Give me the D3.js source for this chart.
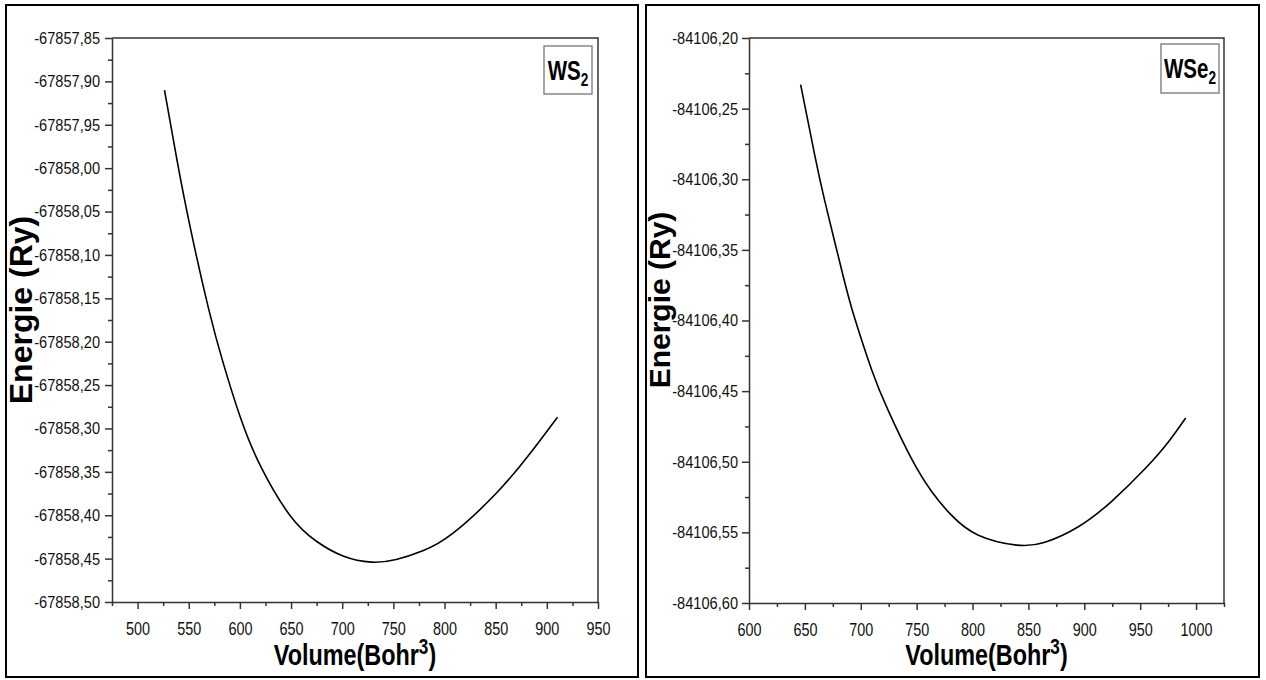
<!DOCTYPE html>
<html lang='en'>
	<head>
		<title>Energie - Volume</title>
		<meta charset=utf-8>
		<script src="https://cdn.jsdelivr.net/npm/d3@7"></script>
		<style>
			body {
				margin: 0;
				background-color: white;
			}
			.ticklab {
				font-family: 'Liberation Sans', Arial, sans-serif;
				fill: #111;
			}
			.axtitle {
				font-family: 'Liberation Sans', Arial, sans-serif;
				font-weight: bold;
				fill: black;
			}
		</style>
	</head>
	<body>
		<svg id='chart' width="1266" height="680"></svg>
	</body>

	<script>
		// WS2 curve
		const ws2Volume = [526.3, 538.4, 551.4, 569.2, 583.8, 600.1, 619.6, 648.8, 674.8, 700.8, 728.4, 752.8, 778.8, 808.0, 850.3, 882.8, 910.4];
		const ws2Energy = [-67857.910, -67857.990, -67858.068, -67858.161, -67858.225, -67858.286, -67858.342, -67858.400, -67858.430, -67858.447, -67858.454, -67858.451, -67858.441, -67858.421, -67858.375, -67858.330, -67858.287];
		const ws2XTicks = [500, 550, 600, 650, 700, 750, 800, 850, 900, 950];
		const ws2YTicks = [-67857.85, -67857.90, -67857.95, -67858.00, -67858.05, -67858.10, -67858.15, -67858.20, -67858.25, -67858.30, -67858.35, -67858.40, -67858.45, -67858.50];

		// WSe2 curve
		const wse2Volume = [646.2, 659.1, 668.0, 684.4, 694.8, 709.8, 724.7, 745.5, 763.4, 781.3, 805.2, 839.5, 864.8, 894.7, 924.5, 954.3, 975.2, 990.7];
		const wse2Energy = [-84106.233, -84106.284, -84106.316, -84106.369, -84106.399, -84106.435, -84106.464, -84106.498, -84106.521, -84106.538, -84106.552, -84106.559, -84106.557, -84106.546, -84106.528, -84106.505, -84106.486, -84106.469];
		const wse2XTicks = [600, 650, 700, 750, 800, 850, 900, 950, 1000];
		const wse2YTicks = [-84106.20, -84106.25, -84106.30, -84106.35, -84106.40, -84106.45, -84106.50, -84106.55, -84106.60];

		const svg = d3.select('#chart');
		// comma decimals, plain hyphen for minus
		const comma = v => d3.format('.2f')(v).replace('.', ',').replace('\u2212', '-');

		function drawPanel(p) {
			// outer frame
			svg.append('rect').attr('x', p.frame[0]).attr('y', p.frame[1])
				.attr('width', p.frame[2]).attr('height', p.frame[3])
				.attr('fill', 'none').attr('stroke', 'black').attr('stroke-width', 2);

			const x = d3.scaleLinear().domain(p.xDomain).range([p.left, p.right]);
			const y = d3.scaleLinear().domain(p.yDomain).range([p.bottom, p.top]);

			// minor ticks, halfway between majors
			const xStep = p.xTicks[1] - p.xTicks[0];
			const xMinor = p.xTicks.map(v => v - xStep / 2).concat([p.xTicks[p.xTicks.length - 1] + xStep / 2])
				.filter(v => v >= p.xDomain[0] - 1e-9 && v <= p.xDomain[1] + 1e-9);
			const yMinor = p.yTicks.slice(1).map((v, i) => (v + p.yTicks[i]) / 2);

			svg.append('g').attr('transform', 'translate(0,' + p.bottom + ')')
				.call(d3.axisBottom(x).tickValues(xMinor).tickSize(4).tickFormat(''))
				.call(g => g.select('.domain').remove())
				.selectAll('line').attr('stroke', '#333').attr('stroke-width', 1.5);
			svg.append('g').attr('transform', 'translate(' + p.left + ',0)')
				.call(d3.axisLeft(y).tickValues(yMinor).tickSize(4).tickFormat(''))
				.call(g => g.select('.domain').remove())
				.selectAll('line').attr('stroke', '#333').attr('stroke-width', 1.5);

			const xa = svg.append('g').attr('transform', 'translate(0,' + p.bottom + ')')
				.call(d3.axisBottom(x).tickValues(p.xTicks).tickSize(7).tickSizeOuter(0).tickPadding(13).tickFormat(d3.format('d')));
			const ya = svg.append('g').attr('transform', 'translate(' + p.left + ',0)')
				.call(d3.axisLeft(y).tickValues(p.yTicks).tickSize(7).tickSizeOuter(0).tickFormat(comma));
			[xa, ya].forEach(a => {
				a.selectAll('line').attr('stroke', '#333').attr('stroke-width', 1.5);
				a.select('.domain').attr('stroke', '#333').attr('stroke-width', 1.5);
				a.selectAll('text').attr('class', 'ticklab').attr('font-family', null).attr('fill', null);
			});
			// condensed look, like the narrow font of the original
			xa.selectAll('text').attr('font-size', 18).attr('transform', 'scale(0.8,1)');
			ya.selectAll('text').attr('font-size', 17).attr('transform', 'scale(0.86,1)').attr('x', -p.labGap / 0.86);

			// top and right border of the plot
			svg.append('path')
				.attr('d', 'M' + p.left + ',' + p.top + 'H' + p.right + 'V' + p.bottom)
				.attr('fill', 'none').attr('stroke', '#333').attr('stroke-width', 1.5);

			// curve
			const line = d3.line().x(d => x(d[0])).y(d => y(d[1])).curve(d3.curveNatural);
			svg.append('path').datum(d3.zip(p.volume, p.energy))
				.attr('d', line).attr('fill', 'none').attr('stroke', 'black').attr('stroke-width', 1.6);

			// legend box
			svg.append('rect').attr('x', p.legend[0]).attr('y', p.legend[1])
				.attr('width', p.legend[2]).attr('height', p.legend[3])
				.attr('fill', 'white').attr('stroke', '#888').attr('stroke-width', 1.5);
			const lt = svg.append('text').attr('class', 'axtitle').attr('font-size', 27)
				.attr('transform', 'translate(' + (p.legend[0] + p.legend[2] / 2) + ',' + (p.legend[1] + 34) + ') scale(0.76,1)')
				.attr('text-anchor', 'middle');
			lt.append('tspan').text(p.name);
			lt.append('tspan').text('2').attr('font-size', 18).attr('dy', 6);

			// axis titles
			const xt = svg.append('text').attr('class', 'axtitle').attr('font-size', 30)
				.attr('transform', 'translate(' + (p.left + p.right) / 2 + ',665) scale(0.78,1)')
				.attr('text-anchor', 'middle');
			xt.append('tspan').text('Volume(Bohr');
			xt.append('tspan').text('3').attr('font-size', 22).attr('dy', -11);
			xt.append('tspan').text(')').attr('dy', 11);

			svg.append('text').attr('class', 'axtitle').attr('font-size', p.yTitle[2])
				.attr('transform', 'translate(' + p.yTitle[0] + ',' + p.yTitle[1] + ') rotate(-90)')
				.attr('text-anchor', 'middle').text('Energie (Ry)');
		}

		drawPanel({
			name: 'WS', volume: ws2Volume, energy: ws2Energy, xTicks: ws2XTicks, yTicks: ws2YTicks,
			xDomain: [475, 950], yDomain: [-67858.50, -67857.85],
			frame: [6, 5, 632, 672], left: 112, right: 598, top: 38, bottom: 602, labGap: 12,
			legend: [544, 46, 48, 48], yTitle: [32, 310, 32]
		});
		drawPanel({
			name: 'WSe', volume: wse2Volume, energy: wse2Energy, xTicks: wse2XTicks, yTicks: wse2YTicks,
			xDomain: [600, 1025], yDomain: [-84106.60, -84106.20],
			frame: [646, 5, 613, 672], left: 749, right: 1224, top: 38, bottom: 603, labGap: 11,
			legend: [1161, 44, 58, 49], yTitle: [670, 300, 30]
		});
	</script>
</html>
